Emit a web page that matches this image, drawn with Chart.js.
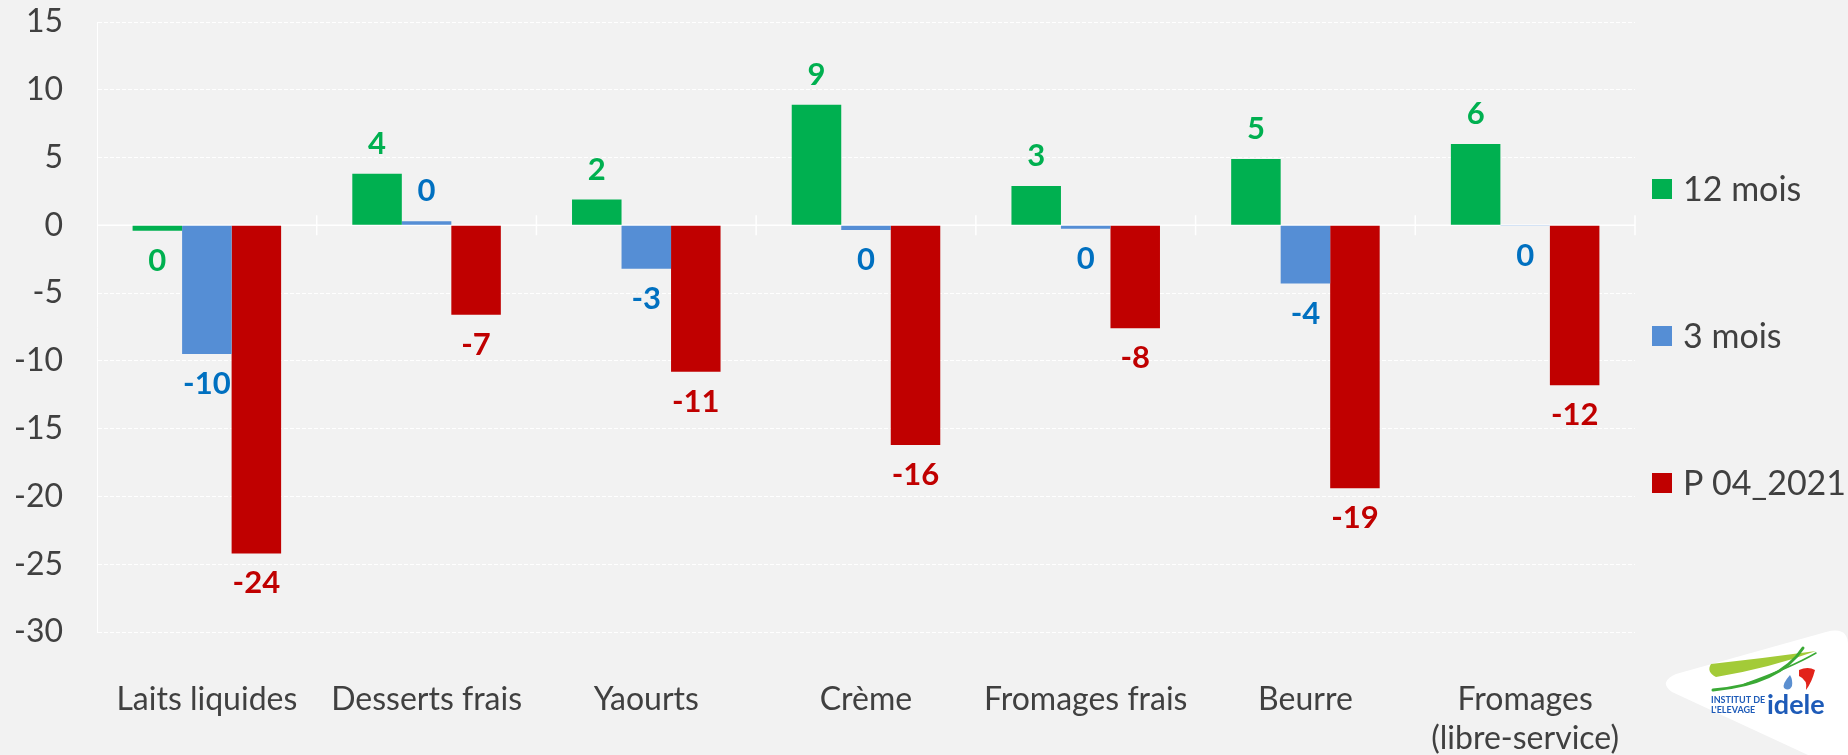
<!DOCTYPE html>
<html lang="fr">

<head>
    <meta charset="UTF-8">
    <title>Evolution des achats</title>
    <script src="https://cdn.jsdelivr.net/npm/chart.js"></script>
    <style>
        body {
            margin: 0;
            background: #F2F2F2;
        }

        .graphique {
            position: relative;
            width: 1848px;
            height: 755px;
        }
    </style>
</head>

<body>
    <div class="graphique">
        <canvas id="miGrafica"></canvas>
    </div>

<script>
    // Donnees
    const categories = ['Laits liquides', 'Desserts frais', 'Yaourts', 'Crème', 'Fromages frais', 'Beurre', ['Fromages', '(libre-service)']];
    const mois12 = [-0.4, 3.8, 1.9, 8.9, 2.9, 4.9, 6.0];
    const mois3 = [-9.5, 0.3, -3.2, -0.35, -0.25, -4.3, -0.05];
    const p042021 = [-24.2, -6.6, -10.8, -16.2, -7.6, -19.4, -11.8];
    const seriesNoms = ['12 mois', '3 mois', 'P 04_2021'];
    const yTicks = [15, 10, 5, 0, -5, -10, -15, -20, -25, -30];

    const couleursBarres = ['#00B050', '#558ED5', '#C00000'];
    const couleursEtiquettes = ['#00B050', '#0070C0', '#C00000'];
    const police = 'Lato, "Open Sans", sans-serif';

    // arrondi facon Excel (0,5 s'eloigne de zero)
    function arrondi(v) {
        const r = Math.sign(v) * Math.round(Math.abs(v));
        return String(r || 0);
    }

    // ligne du zero avec les petites graduations entre categories
    const axeZero = {
        id: 'axeZero',
        beforeDatasetsDraw(chart) {
            const { ctx, chartArea } = chart;
            const x = chart.scales.x;
            const y0 = chart.scales.y.getPixelForValue(0);
            const pas = x.getPixelForValue(1) - x.getPixelForValue(0);
            ctx.save();
            ctx.strokeStyle = '#FFFFFF';
            ctx.lineWidth = 1.5;
            ctx.beginPath();
            ctx.moveTo(chartArea.left, y0);
            ctx.lineTo(chartArea.right, y0);
            for (let i = 1; i <= categories.length; i++) {
                const xb = x.getPixelForValue(i) - pas / 2;
                ctx.moveTo(xb, y0 - 10);
                ctx.lineTo(xb, y0 + 10);
            }
            ctx.stroke();
            ctx.restore();
        }
    };

    // etiquettes de valeurs au bout des barres
    const etiquettes = {
        id: 'etiquettes',
        afterDatasetsDraw(chart) {
            const { ctx } = chart;
            ctx.save();
            ctx.font = 'bold 31px ' + police;
            ctx.textAlign = 'center';
            ctx.textBaseline = 'middle';
            chart.data.datasets.forEach((ds, d) => {
                const meta = chart.getDatasetMeta(d);
                meta.data.forEach((bar, i) => {
                    const v = ds.data[i];
                    const y = v >= 0 ? bar.y - 30 : bar.y + 30;
                    ctx.fillStyle = couleursEtiquettes[d];
                    ctx.fillText(arrondi(v), bar.x, y);
                });
            });
            ctx.restore();
        }
    };

    // legende a droite, tres espacee comme dans Excel
    const legende = {
        id: 'legende',
        afterDraw(chart) {
            const { ctx, chartArea } = chart;
            const x0 = chartArea.right + 17;
            ctx.save();
            ctx.font = '34px ' + police;
            ctx.textBaseline = 'middle';
            chart.data.datasets.forEach((ds, d) => {
                const yc = chartArea.top + 167 + d * 147;
                ctx.fillStyle = ds.backgroundColor;
                ctx.fillRect(x0, yc - 10, 20, 20);
                ctx.fillStyle = '#404040';
                ctx.fillText(ds.label, x0 + 31, yc + 1);
            });
            ctx.restore();
        }
    };

    // logo idele en bas a droite
    const logo = {
        id: 'logo',
        afterDraw(chart) {
            const { ctx } = chart;
            ctx.save();
            ctx.fillStyle = '#FFFFFF';
            ctx.beginPath();
            ctx.moveTo(1672, 692);
            ctx.quadraticCurveTo(1658, 682, 1676, 674);
            ctx.lineTo(1826, 632);
            ctx.quadraticCurveTo(1848, 626, 1848, 645);
            ctx.lineTo(1848, 755);
            ctx.lineTo(1808, 755);
            ctx.closePath();
            ctx.fill();

            // virgule vert clair
            ctx.fillStyle = '#A3CB38';
            ctx.beginPath();
            ctx.moveTo(1711, 664);
            ctx.quadraticCurveTo(1765, 658, 1816, 651);
            ctx.quadraticCurveTo(1770, 668, 1716, 677);
            ctx.quadraticCurveTo(1706, 672, 1711, 664);
            ctx.fill();

            // trait vert fonce
            ctx.strokeStyle = '#3AA935';
            ctx.lineWidth = 3;
            ctx.lineCap = 'round';
            ctx.beginPath();
            ctx.moveTo(1713, 690);
            ctx.quadraticCurveTo(1780, 684, 1803, 648);
            ctx.stroke();
            ctx.lineWidth = 1.5;
            ctx.beginPath();
            ctx.moveTo(1745, 684);
            ctx.quadraticCurveTo(1790, 668, 1816, 653);
            ctx.stroke();

            // goutte bleue et drapeau rouge
            ctx.fillStyle = '#5B8FD0';
            ctx.beginPath();
            ctx.moveTo(1790, 675);
            ctx.quadraticCurveTo(1782, 684, 1784, 688);
            ctx.quadraticCurveTo(1789, 692, 1792, 686);
            ctx.quadraticCurveTo(1793, 680, 1790, 675);
            ctx.fill();
            ctx.fillStyle = '#E2231A';
            ctx.beginPath();
            ctx.moveTo(1799, 670);
            ctx.quadraticCurveTo(1808, 666, 1815, 670);
            ctx.quadraticCurveTo(1812, 682, 1806, 690);
            ctx.quadraticCurveTo(1808, 680, 1799, 676);
            ctx.closePath();
            ctx.fill();

            ctx.fillStyle = '#1E5BB8';
            ctx.font = 'bold 9px ' + police;
            ctx.textBaseline = 'alphabetic';
            ctx.fillText('INSTITUT DE', 1711, 703);
            ctx.fillText("L'ELEVAGE", 1711, 713);
            ctx.font = 'bold 27px ' + police;
            ctx.fillText('idele', 1767, 714);
            ctx.restore();
        }
    };

    const ctx = document.getElementById('miGrafica').getContext('2d');
    const chart = new Chart(ctx, {
        type: 'bar',
        data: {
            labels: categories,
            datasets: [
                { label: seriesNoms[0], data: mois12, backgroundColor: couleursBarres[0] },
                { label: seriesNoms[1], data: mois3, backgroundColor: couleursBarres[1] },
                { label: seriesNoms[2], data: p042021, backgroundColor: couleursBarres[2] }
            ]
        },
        options: {
            responsive: true,
            maintainAspectRatio: false,
            animation: false,
            layout: {
                padding: { top: 22, right: 213, bottom: 0, left: 0 }
            },
            datasets: {
                bar: { categoryPercentage: 0.676, barPercentage: 1 }
            },
            plugins: {
                legend: { display: false },
                tooltip: { enabled: false }
            },
            scales: {
                x: {
                    grid: { display: false },
                    border: { display: false },
                    ticks: {
                        color: '#404040',
                        font: { family: police, size: 32, lineHeight: 1.22 },
                        padding: 40,
                        maxRotation: 0,
                        autoSkip: false
                    },
                    afterFit(scale) {
                        scale.height = 123;
                    }
                },
                y: {
                    min: -30,
                    max: 15,
                    afterBuildTicks(scale) {
                        scale.ticks = yTicks.map(v => ({ value: v }));
                    },
                    ticks: {
                        color: '#404040',
                        font: { family: police, size: 32 },
                        padding: 34
                    },
                    grid: { color: '#FFFFFF', lineWidth: 1, drawTicks: false },
                    border: { display: true, color: '#FFFFFF', width: 1, dash: [4, 2] },
                    afterFit(scale) {
                        // la marge des etiquettes ne doit pas pousser la zone du graphique
                        scale.width = 97;
                        scale.paddingTop = 0;
                        scale.paddingBottom = 0;
                    }
                }
            }
        },
        plugins: [axeZero, etiquettes, legende, logo]
    });
</script>
</body>

</html>
